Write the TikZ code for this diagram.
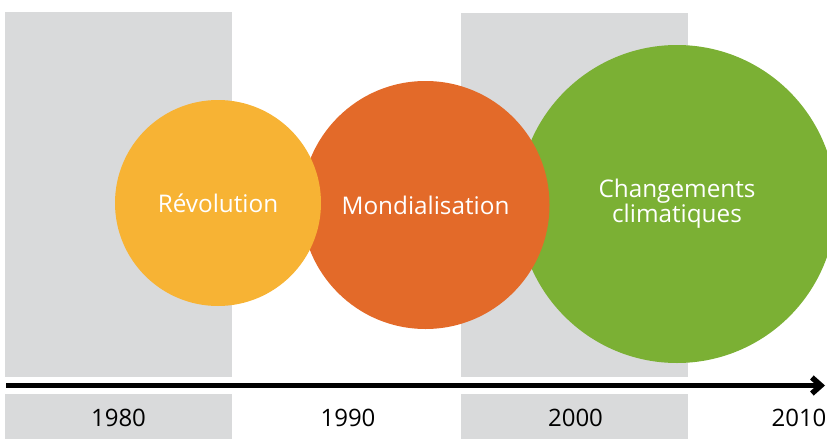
\documentclass[tikz,border=0pt]{standalone}
\usepackage{fontspec}
\setmainfont{Open Sans}
\usepackage{tikz}
\usetikzlibrary{positioning}
\usetikzlibrary{arrows.meta}
\definecolor{hellgrau}{RGB}{217,218,219}
\definecolor{gelb}{RGB}{247,179,52}
\definecolor{orange}{RGB}{227,106,41}
\definecolor{gruen}{RGB}{123,176,52}

\begin{document}
\begin{tikzpicture}[x=1pt,y=-1pt]

\def\breite{827}
\def\hoehe{439}
\useasboundingbox (0,0) rectangle (\breite,\hoehe);

	\tikzset{kreis/.style={circle,inner sep=0pt,text=white,align=center,font=\fontsize{24.3}{23}\selectfont}}
	\tikzset{jahr/.style={inner sep=0pt,font=\fontsize{24}{24}\selectfont}}

% Graue Felder
\fill[hellgrau] (5,12) rectangle (232,377);
\fill[hellgrau] (461,13) rectangle (688,377);
\fill[hellgrau] (5,394) rectangle (232,439);
\fill[hellgrau] (461,394) rectangle (688,439);

% Kreise
\node[kreis,fill=gruen,minimum size=318] (klima) at (677,204) {Changements\\climatiques};
\node[kreis,fill=orange,minimum size=248] (mondial) at (425.5,205) {Mondialisation};
\node[kreis,fill=gelb,minimum size=206] (revol) at (218,203) {Révolution};

% Zeitachse
\coordinate (t0) at (6,385.5);
\coordinate (t1) at (825,385.5);
	\draw[line width=5.5,-{Straight Barb[length=9,width=16]}] (t0) -- (t1);

	%Jahre
	\foreach \x/\j in {118.5/1980,348/1990,575.5/2000,799/2010}{
		\node[jahr] (j\j) at (\x,417.5) {\j};
	}
\end{tikzpicture}
\end{document}
